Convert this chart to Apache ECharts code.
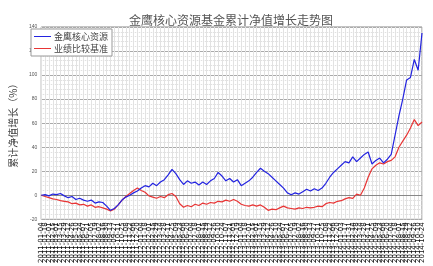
<!DOCTYPE html>
<html lang="zh-CN" style="height: 100%">
<head>
  <meta charset="utf-8">
</head>
<body style="height: 100%; margin: 0; background: #fff">
  <div id="container" style="width: 433px; height: 266px"></div>
  <script type="text/javascript" src="https://cdn.jsdelivr.net/npm/echarts@6/dist/echarts.min.js"></script>
  <script type="text/javascript">
const dates = [
  '2011-01-04','2011-01-18','2011-02-01','2011-02-15','2011-03-01','2011-03-15','2011-03-29','2011-04-12','2011-04-26','2011-05-10',
  '2011-05-24','2011-06-07','2011-06-21','2011-07-05','2011-07-19','2011-08-02','2011-08-16','2011-08-30','2011-09-13','2011-09-27',
  '2011-10-11','2011-10-25','2011-11-08','2011-11-22','2011-12-06','2011-12-20','2012-01-04','2012-01-18','2012-02-01','2012-02-15',
  '2012-02-29','2012-03-14','2012-03-28','2012-04-11','2012-04-25','2012-05-09','2012-05-23','2012-06-06','2012-06-20','2012-07-04',
  '2012-07-18','2012-08-01','2012-08-15','2012-08-29','2012-09-12','2012-09-26','2012-10-10','2012-10-24','2012-11-07','2012-11-21',
  '2012-12-05','2012-12-19','2013-01-04','2013-01-18','2013-02-01','2013-02-15','2013-03-01','2013-03-15','2013-03-29','2013-04-12',
  '2013-04-26','2013-05-10','2013-05-24','2013-06-07','2013-06-21','2013-07-05','2013-07-19','2013-08-02','2013-08-16','2013-08-30',
  '2013-09-13','2013-09-27','2013-10-11','2013-10-25','2013-11-08','2013-11-22','2013-12-06','2013-12-20','2014-01-03','2014-01-17',
  '2014-01-31','2014-02-14','2014-02-28','2014-03-14','2014-03-28','2014-04-11','2014-04-25','2014-05-09','2014-05-23','2014-06-06',
  '2014-06-20','2014-07-04','2014-07-18','2014-08-01','2014-08-15','2014-08-29','2014-09-12','2014-09-26','2014-10-10','2014-10-24'
];
const fundValues = [
  0, 0.5, -0.5, 1, 0.5, 1.5, -0.5, -2, -1, -3.5,
  -2.5, -4, -5, -4, -6.5, -5.5, -6, -9, -12.5, -11,
  -8, -4, -1.5, 0, 2, 3.5, 6, 8, 7, 10,
  8, 11, 13, 17, 21.5, 18, 13, 9, 12, 10,
  11, 8.5, 11, 9, 12, 14, 19, 16, 12, 14,
  11, 13, 8, 10, 12, 15, 19, 22.5, 20, 18,
  15, 12, 9, 6, 2, 0.5, 2, 1, 3, 5,
  3.5, 5.5, 4, 6, 10, 15, 19, 22, 25, 28,
  27, 32, 28, 31, 34, 36, 26, 29, 31, 27,
  30, 34, 50, 66, 80, 96, 98, 113, 104, 135
];
const benchValues = [
  0, -1, -2, -3, -3.5, -4.5, -5, -5.5, -7, -6.5,
  -8, -7.5, -9, -8, -10, -9.5, -10.5, -11.5, -13, -11.5,
  -8, -4, -1, 1.5, 4, 6, 4, 2.5, -0.5, -1.5,
  -2.5, -1, -2, 0.5, 1.5, -1, -7, -10, -8.5, -9.5,
  -7.5, -8.5, -6.5, -7.5, -6, -6.5, -5, -5.5, -4, -5,
  -3.5, -5, -7.5, -8.5, -9, -8, -9, -8, -10, -12.5,
  -11.5, -12, -10.5, -9, -10.5, -11, -11.5, -10.5, -11, -10,
  -10.5, -10, -9, -9.5, -7, -6, -6.5, -5, -4.5, -3,
  -2, -2.5, 1, 0, 6, 15, 22, 25, 27, 26,
  28, 29, 32, 40, 45, 50, 56, 63, 58, 61
];
const seriesNames = ['金鹰核心资源', '业绩比较基准'];

var dom = document.getElementById('container');
var myChart = echarts.init(dom, null, { renderer: 'canvas' });
var font = '"Noto Sans CJK SC", sans-serif';

var option = {
  animation: false,
  backgroundColor: '#fff',
  title: {
    text: '金鹰核心资源基金累计净值增长走势图',
    left: 226,
    textAlign: 'center',
    top: 9,
    textStyle: { fontFamily: font, fontSize: 12, fontWeight: 'normal', color: '#555' }
  },
  legend: {
    data: seriesNames,
    orient: 'vertical',
    left: 31,
    top: 29,
    backgroundColor: '#fff',
    borderColor: '#999',
    borderWidth: 1,
    padding: [3, 4, 3, 3],
    itemGap: 3,
    itemWidth: 17,
    itemHeight: 1,
    icon: 'rect',
    textStyle: { fontFamily: font, fontSize: 9, color: '#444', padding: [0, 0, 0, -2] }
  },
  grid: {
    left: 29,
    right: 11,
    top: 27,
    bottom: 30,
    show: true,
    backgroundColor: '#fff',
    borderColor: '#888',
    borderWidth: 1
  },
  xAxis: [
    {
      type: 'category',
      data: dates,
      boundaryGap: false,
      axisLine: { lineStyle: { color: '#888' } },
      axisTick: { show: false },
      axisLabel: {
        interval: 0,
        rotate: 90,
        fontSize: 7,
        margin: 3,
        color: '#111',
        fontFamily: 'DejaVu Sans'
      },
      splitLine: { show: true, interval: 0, lineStyle: { color: '#c8c8c8', width: 1 } }
    },
    {
      // fine vertical mesh only, no data on it
      type: 'value',
      min: 0,
      max: 198,
      interval: 2,
      show: true,
      axisLine: { show: false },
      axisTick: { show: false },
      axisLabel: { show: false },
      splitLine: { show: true, lineStyle: { color: '#e2e2e2', width: 1 } }
    }
  ],
  yAxis: {
    type: 'value',
    min: -20,
    max: 140,
    interval: 20,
    name: '累计净值增长（%）',
    nameLocation: 'middle',
    nameRotate: 90,
    nameGap: 13,
    nameTextStyle: { fontFamily: font, fontSize: 10, color: '#444' },
    axisLine: { show: false },
    axisTick: { show: false },
    axisLabel: { fontSize: 5, color: '#555', margin: 4 },
    splitLine: { lineStyle: { color: '#aaa', width: 1 } },
    minorTick: { show: false, splitNumber: 5 },
    minorSplitLine: { show: true, lineStyle: { color: '#d8d8d8', type: 'dotted' } }
  },
  series: [
    {
      name: seriesNames[0],
      type: 'line',
      data: fundValues,
      showSymbol: false,
      lineStyle: { color: '#2323e0', width: 1.2 },
      itemStyle: { color: '#2323e0' },
      z: 3
    },
    {
      name: seriesNames[1],
      type: 'line',
      data: benchValues,
      showSymbol: false,
      lineStyle: { color: '#e83535', width: 1.2 },
      itemStyle: { color: '#e83535' },
      z: 2
    }
  ]
};

myChart.setOption(option);
window.addEventListener('resize', myChart.resize);
  </script>
</body>
</html>
